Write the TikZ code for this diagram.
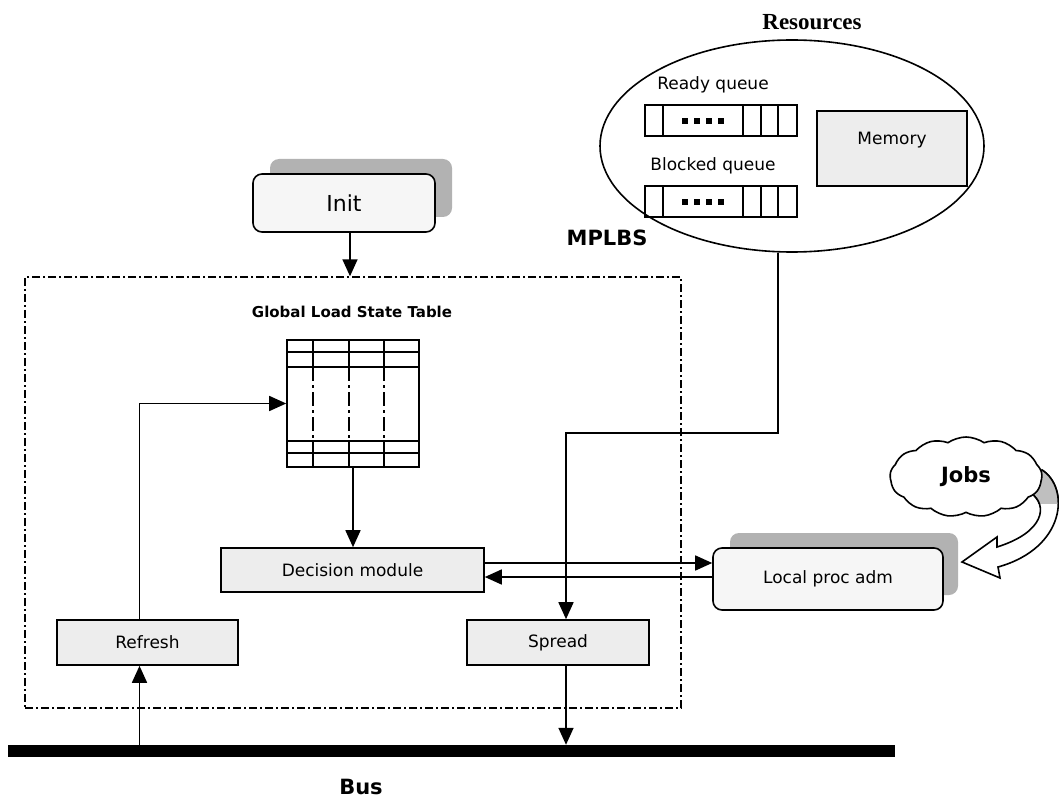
\documentclass[tikz,border=0pt]{standalone}
\usepackage{fontspec}
\setmainfont{DejaVu Sans}
\newfontfamily\titleserif{Liberation Serif}
\usetikzlibrary{shapes.geometric,shapes.symbols,arrows.meta,positioning,calc}

\begin{document}
\begin{tikzpicture}[x=1pt,y=-1pt,
    every node/.style={font=\fontsize{17}{20}\selectfont},
    lbl/.style={font=\fontsize{21}{24}\selectfont\bfseries},
    blk/.style={draw, line width=1.6pt, fill=gray!14, inner sep=0pt},
    rblk/.style={blk, rounded corners=9pt, fill=gray!7},
    shade/.style={fill=gray!60, rounded corners=9pt, inner sep=0pt},
    arr/.style={-{Triangle[length=17pt,width=15pt]}, line width=1.6pt},
    dashdot/.style={draw, line width=1.4pt, dash pattern=on 8pt off 3pt on 2pt off 3pt}]
    \useasboundingbox (0,0) rectangle (1059,802);

    \node[font=\fontsize{23}{26}\selectfont\titleserif\bfseries] (restitle) at (812,22) {Resources};
    \node[draw, ellipse, line width=1.6pt, minimum width=384, minimum height=212, inner sep=0pt] (res) at (792,146) {};
    \node (rdylbl) at (713,85) {Ready queue};
    \node (blklbl) at (713,166) {Blocked queue};
    \foreach \y in {105,186} {
        \draw[line width=1.6pt] (645,\y) rectangle ++(152,31);
        \foreach \x in {663,743,761,778} \draw[line width=1.6pt] (\x,\y) -- ++(0,31);
        \foreach \x in {682,694,706,718} \fill (\x,\y+13) rectangle ++(6,6);
    }
    \node[blk, minimum width=150, minimum height=75] (mem) at (892,148.5) {};
    \node at (892,140) {Memory};

    \node[lbl] (mplbslbl) at (607,238) {MPLBS};
    \node[shade, minimum width=182, minimum height=58] at (361,188) {};
    \node[rblk, minimum width=182, minimum height=58, font=\fontsize{22}{26}\selectfont] (init) at (344,203) {Init};
    \node[dashdot, minimum width=656, minimum height=431, inner sep=0pt] (core) at (353,492.5) {};
    \draw[arr] ([xshift=6pt]init.south) -- ([xshift=6pt]init.south |- core.north);

    \node[font=\fontsize{15}{18}\selectfont\bfseries] (glstlbl) at (352,312) {Global Load State Table};
    \node[draw, line width=1.6pt, minimum width=132, minimum height=127, inner sep=0pt] (glst) at (353,403.5) {};
    \foreach \y in {352,453} \draw[line width=1.4pt] (287,\y) -- (419,\y);
    \foreach \y in {367,441} \draw[line width=2pt] (287,\y) -- (419,\y);
    \foreach \x in {313,349,384} {
        \draw[line width=1.4pt] (\x,340) -- (\x,367) (\x,441) -- (\x,467);
        \draw[line width=2.2pt, dash pattern=on 14pt off 4pt on 3pt off 4pt] (\x,367) -- (\x,441);
    }

    \node[blk, minimum width=263, minimum height=44] (dec) at (352.5,570) {Decision module};
    \node[blk, minimum width=181, minimum height=45] (refresh) at (147.5,642.5) {Refresh};
    \node[blk, minimum width=182, minimum height=45] (spread) at (558,642.5) {Spread};

    \node[shade, minimum width=228, minimum height=62] at (844,564) {};
    \node[rblk, minimum width=230, minimum height=62] (lpa) at (828,579) {Local proc adm};

    \draw[line width=1.6pt, fill=white] (1042,470) .. controls (1070,488) and (1066,548) .. (998,567)
        -- (1000,578) -- (962,562) -- (997,537) -- (997,547)
        .. controls (1045,532) and (1048,505) .. (1031,493) -- cycle;
    \begin{scope}
        \clip (1025,460) rectangle (1062,503);
        \fill[gray!50] (1042,470) .. controls (1070,488) and (1066,548) .. (998,567)
            -- (997,547) .. controls (1045,532) and (1048,505) .. (1031,493) -- cycle;
        \draw[line width=1.6pt] (1042,470) .. controls (1070,488) and (1066,548) .. (998,567)
            (997,547) .. controls (1045,532) and (1048,505) .. (1031,493);
    \end{scope}
    \node[cloud, draw, line width=1.6pt, fill=white, cloud puffs=13, cloud puff arc=70, cloud ignores aspect,
        minimum width=152, minimum height=80, lbl] (jobs) at (966,477) {Jobs};

    \node[fill=black, minimum width=887, minimum height=12, inner sep=0pt] (bus) at (451.5,751) {};
    \node[lbl] (buslbl) at (361,787) {Bus};

    \draw[arr] (glst.south) -- (glst.south |- dec.north);
    \draw[arr] ([xshift=-8pt]refresh.south |- bus.north) -- ([xshift=-8pt]refresh.south);
    \draw[arr] ([xshift=-8pt]refresh.north) |- (glst.west);
    \draw[arr] ([xshift=-14pt]res.south) -- ++(0,180) -| ([xshift=8pt]spread.north);
    \draw[arr] ([xshift=8pt]spread.south) -- ([xshift=8pt]spread.south |- bus.north);
    \draw[arr] ([yshift=7pt]dec.east) -- ([yshift=7pt]dec.east -| lpa.west);
    \draw[arr] ([yshift=-7pt]dec.east -| lpa.west) -- ([yshift=-7pt]dec.east);
\end{tikzpicture}
\end{document}
